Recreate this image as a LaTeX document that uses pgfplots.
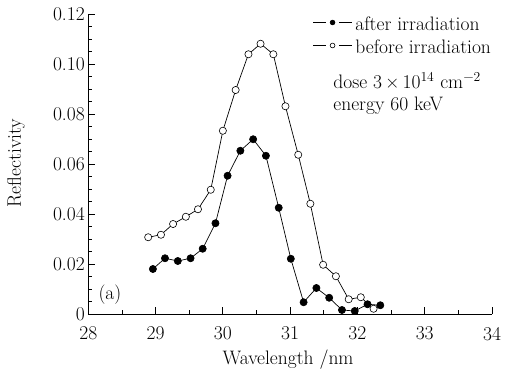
\documentclass[border=0pt]{standalone}
\usepackage{pgfplots}
\pgfplotsset{compat=1.18}
\begin{document}
\begin{tikzpicture}
\begin{axis}[
  scale only axis, width=403.7pt, height=300pt,
  xmin=28, xmax=34, ymin=0, ymax=0.12,
  axis x line*=bottom, axis y line*=left,
  axis line style={line width=0.9pt},
  xtick={28,29,...,34}, minor x tick num=1,
  ytick={0,0.02,0.04,0.06,0.08,0.10,0.12},
  yticklabels={0,0.02,0.04,0.06,0.08,0.10,0.12},
  scaled y ticks=false,
  minor y tick num=3,
  tick align=inside,
  major tick length=7pt, minor tick length=4pt,
  every tick/.style={line width=0.8pt, black},
  font=\fontsize{19.5}{23}\selectfont,
  /pgf/number format/assume math mode=true,
  xticklabel style={yshift=-9.5pt},
  xlabel={Wavelength /nm}, ylabel={Reflectivity},
  xlabel style={at={(axis description cs:0.495,-0.153)},anchor=center},
  ylabel style={at={(axis description cs:-0.179,0.503)},anchor=center},
  clip=false,
  legend style={draw=none, fill=none, at={(axis description cs:0.5559,0.9917)}, anchor=north west,
    inner sep=0pt, outer sep=0pt, row sep=0pt, font=\fontsize{19.5}{23}\selectfont,
    /tikz/every even column/.append style={column sep=0pt},
    nodes={inner sep=0pt, text height=14pt, text depth=9pt}},
  legend cell align=left,
  legend image code/.code={%
    \draw[#1, mark=none] (0pt,5.5pt) -- (13pt,5.5pt) (26pt,5.5pt) -- (39pt,5.5pt);
    \draw[#1, mark size=2.4pt, only marks] plot coordinates {(19.5pt,5.5pt)};
    \path (42pt,5.5pt);},
]
\addplot[black, line width=0.7pt, mark=*, mark size=3.6pt, mark options={fill=black,line width=0.6pt}] coordinates {
(28.96,0.0180)(29.14,0.0223)(29.33,0.0212)(29.52,0.0223)(29.70,0.0261)(29.89,0.0363)(30.07,0.0553)(30.26,0.0653)(30.45,0.0699)(30.64,0.0633)(30.83,0.0425)(31.01,0.0221)(31.20,0.0047)(31.39,0.0104)(31.58,0.0065)(31.77,0.0016)(31.96,0.0012)(32.15,0.0039)(32.34,0.0035)
};
\addlegendentry{after irradiation}
\addplot[black, line width=0.7pt, mark=*, mark size=3.6pt, mark options={fill=white,line width=0.6pt}] coordinates {
(28.89,0.0307)(29.08,0.0317)(29.26,0.0360)(29.45,0.0389)(29.63,0.0419)(29.82,0.0497)(30.00,0.0733)(30.19,0.0896)(30.38,0.1039)(30.56,0.1081)(30.75,0.1039)(30.93,0.0831)(31.12,0.0637)(31.30,0.0441)(31.49,0.0197)(31.68,0.0151)(31.87,0.0059)(32.05,0.0067)(32.24,0.0021)
};
\addlegendentry{before irradiation}
\node[anchor=base west, inner sep=0pt] at (axis cs:31.64,0.0900) {dose 3\,×\,10\textsuperscript{14} cm\textsuperscript{−2}};
\node[anchor=base west, inner sep=0pt] at (axis cs:31.64,0.0812) {energy 60 keV};
\node[anchor=west, inner sep=0pt] at (axis cs:28.15,0.0076) {(a)};
\end{axis}
\path ([xshift=-88.3pt,yshift=-58pt]current axis.south west) rectangle ([xshift=26pt,yshift=14pt]current axis.north east);
\end{tikzpicture}
\end{document}
